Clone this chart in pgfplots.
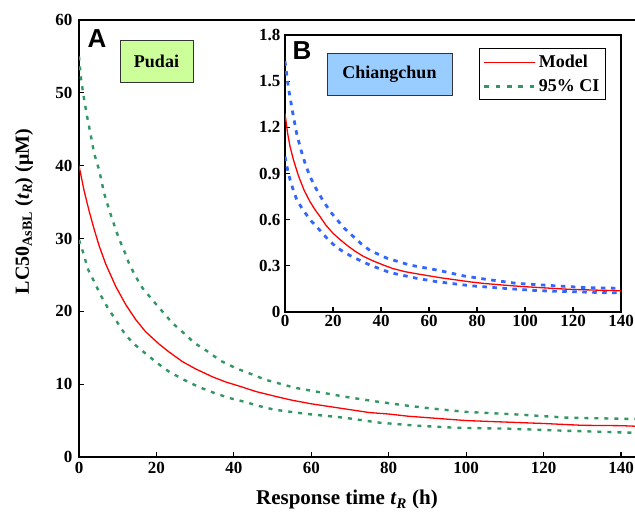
\documentclass[border=0pt]{standalone}
\usepackage{pgfplots}
\pgfplotsset{compat=1.18}
\usepackage{fontspec}
\setmainfont{Liberation Serif}
\setsansfont{Liberation Sans}

\definecolor{cigreen}{RGB}{51,150,100}
\definecolor{ciblue}{RGB}{51,102,255}
\definecolor{boxgreen}{RGB}{204,255,153}
\definecolor{boxblue}{RGB}{153,204,255}

\pgfplotsset{
  lcstyle/.style={
    scale only axis,
    tick align=inside,
    tick pos=left,
    major tick length=5pt,
    axis line style={line width=1.5pt},
    tick style={line width=1.1pt, black},
    ticklabel style={font=\fontsize{17}{17}\selectfont\bfseries},
    /pgf/number format/assume math mode=true,
  },
  model/.style={red, line width=1.3pt},
  cig/.style={cigreen, line width=2.4pt, dash pattern=on 4pt off 6pt},
  cib/.style={ciblue, line width=2.8pt, dash pattern=on 4.5pt off 5.5pt},
}

\begin{document}
\begin{tikzpicture}[x=1pt,y=1pt]
\useasboundingbox (0,0) rectangle (635,513);

% main panel A
\begin{axis}[lcstyle,
  at={(79pt,56pt)}, anchor=south west,
  width=561.4pt, height=437pt,
  xmin=0, xmax=145, ymin=0, ymax=60,
  xtick={0,20,...,140}, ytick={0,10,...,60},
  yticklabel style={xshift=-3pt},
  xticklabel style={yshift=-2pt},
]
\addplot[model] coordinates {
 (0,40) (1.3,36.6) (2.6,33.8) (3.9,31.3) (5.2,29.0) (6.9,26.5) (9.5,23.4)
 (12.1,20.9) (14.6,18.9) (17.2,17.2) (20.7,15.5) (23.3,14.4) (26.7,13.1)
 (30.1,12.1) (34.5,11.0) (37.9,10.3) (42.2,9.6) (45.6,9.0) (51.7,8.2)
 (55,7.8) (60,7.3) (65,6.9) (70,6.5) (75,6.1) (80,5.9) (85,5.6) (90,5.4)
 (95,5.2) (100,5.0) (110,4.8) (120,4.6) (130,4.35) (140,4.3) (145,4.2)
};
\addplot[cig] coordinates {
 (0,55) (0.5,52) (1.2,49.5) (2,47) (3,44.3) (3.9,41.7) (5.2,39.4)
 (6.5,36.2) (7.8,33.9) (9,32) (10.3,30) (11.6,28.4) (12.9,26.6)
 (14.6,24.8) (16.4,23.2) (18.9,21.6) (21.5,20) (24.1,18.4) (27.1,17)
 (29.7,15.7) (33.2,14.5) (36.6,13.2) (40.5,12.2) (44.4,11.4) (48.2,10.6)
 (55.8,9.5) (60,9.1) (68.4,8.3) (75.7,7.7) (84,7.1) (90.3,6.7)
 (99.7,6.2) (114.4,5.8) (125.9,5.4) (145,5.2)
};
\addplot[cig] coordinates {
 (0,29.8) (1.3,27.7) (2.2,25.9) (3.9,24.1) (5.6,22.2) (7.3,20.6)
 (9.5,18.8) (11.6,17.1) (13.8,15.7) (17.2,14.2) (20.2,12.9) (23.3,11.7)
 (27.1,10.6) (31,9.6) (34.9,8.8) (38.8,8.1) (42.6,7.6) (46.5,7.0)
 (50.4,6.5) (59,5.9) (68.4,5.4) (77.8,4.7) (87.2,4.3) (97.7,4.0)
 (110.2,3.9) (125.9,3.6) (145,3.3)
};
\end{axis}

% inset panel B
\begin{axis}[lcstyle,
  at={(285pt,201pt)}, anchor=south west,
  width=336pt, height=277pt,
  xmin=0, xmax=140, ymin=0, ymax=1.8,
  xtick={0,20,...,140}, ytick={0,0.3,0.6,0.9,1.2,1.5,1.8},
  axis background/.style={fill=white},
  yticklabel style={xshift=-1pt},
  legend style={at={(0.955,0.953)}, anchor=north east, draw=black,
    line width=0.8pt, font=\fontsize{18}{18}\selectfont\bfseries,
    row sep=6pt, inner xsep=4pt, inner ysep=5pt},
  legend cell align=left,
  legend image code/.code={\draw[#1] (0pt,0pt) -- (51pt,0pt);},
]
\addplot[model] coordinates {
 (0,1.29) (1,1.17) (2.1,1.075) (3.5,0.99) (5.6,0.885) (8,0.79) (10.4,0.717)
 (12.5,0.665) (14.6,0.62) (17,0.565) (20.1,0.51) (23,0.47) (25.7,0.435)
 (29,0.397) (32.6,0.362) (37,0.33) (41,0.305) (45,0.282) (50,0.262)
 (55,0.248) (60,0.235) (65,0.222) (71.5,0.208) (77,0.196) (82.6,0.186)
 (90,0.176) (99.3,0.165) (110,0.155) (118.8,0.147) (130,0.142) (140,0.138)
};
\addlegendentry{Model}
\addlegendimage{cigreen, line width=3pt, dash pattern=on 4.7pt off 6.6pt}
\addlegendentry{95\% CI}
\addplot[cib, forget plot] coordinates {
 (0,1.63) (1.4,1.46) (3.5,1.27) (5,1.15) (6.9,1.04) (8.5,0.96) (10.4,0.88)
 (13,0.80) (15.97,0.72) (19,0.65) (22.2,0.59) (25,0.54) (28.5,0.49)
 (32,0.44) (35.4,0.40) (42.4,0.35) (52,0.305) (63.2,0.273) (74.3,0.235)
 (84,0.212) (96.5,0.186) (111.8,0.171) (125.7,0.158) (140,0.154)
};
\addplot[cib, forget plot] coordinates {
 (0,1.01) (1,0.93) (2.1,0.86) (3.5,0.79) (4.9,0.73) (7.6,0.66) (11,0.59)
 (14.6,0.53) (18,0.47) (21.5,0.42) (25,0.385) (28.5,0.355) (35.4,0.305)
 (43.75,0.256) (54.9,0.219) (63.2,0.197) (77,0.171) (91,0.154)
 (104.9,0.139) (118.75,0.132) (132.6,0.126) (140,0.125)
};
\end{axis}

% panel letters and site boxes
\node at (97,474) {\fontsize{26}{26}\selectfont\sffamily\bfseries A};
\node at (302,462) {\fontsize{26}{26}\selectfont\sffamily\bfseries B};
\draw[fill=boxgreen, draw=black!80, line width=0.8pt] (120,431) rectangle (193,473);
\node at (156.5,452) {\fontsize{18}{18}\selectfont\bfseries Pudai};
\draw[fill=boxblue, draw=black!80, line width=0.8pt] (327,418) rectangle (452,460);
\node at (389.5,439) {\fontsize{18}{18}\selectfont\bfseries Chiangchun};

% axis titles
\node[rotate=90] at (24,301.5) {\fontsize{20}{20}\selectfont\bfseries LC50\textsubscript{AsBL} (\textit{t}\textsubscript{\textit{R}}) (μM)};
\node[anchor=base] at (347,8) {\fontsize{21}{21}\selectfont\bfseries Response time \textit{t}\textsubscript{\textit{R}} (h)};
\end{tikzpicture}
\end{document}
